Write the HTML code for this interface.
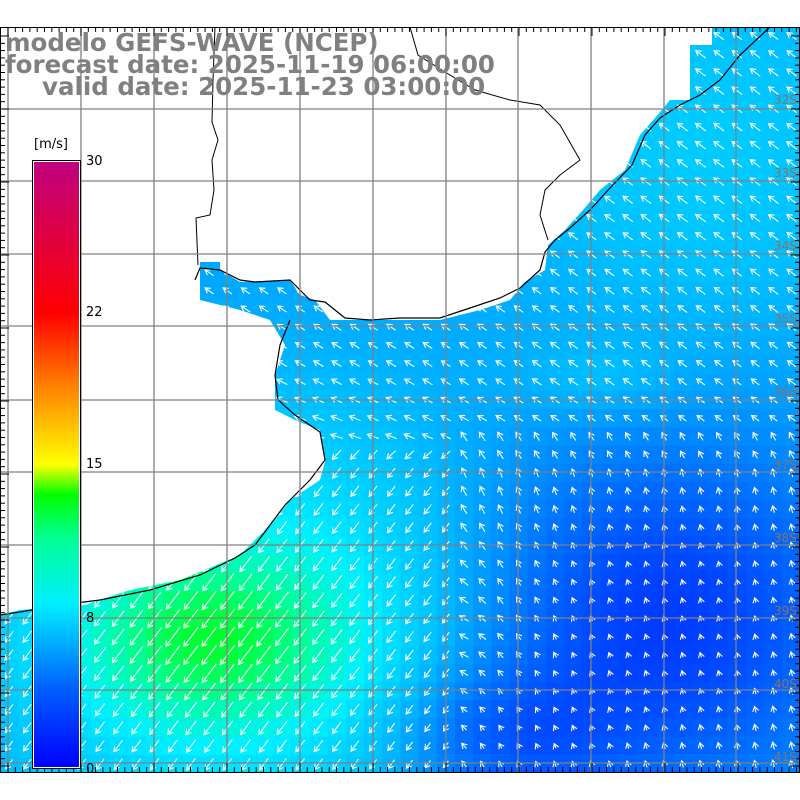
<!DOCTYPE html>
<html><head><meta charset="utf-8"><style>
html,body{margin:0;padding:0;background:#fff;width:800px;height:800px;overflow:hidden}
svg{display:block}
.t{font-family:"DejaVu Sans","Liberation Sans",sans-serif;font-weight:bold;fill:#808080;font-size:24.5px}
.l{font-family:"DejaVu Sans","Liberation Sans",sans-serif;font-size:13px;fill:#000}
.g{font-family:"DejaVu Sans","Liberation Sans",sans-serif;font-size:12px;fill:#907060}
</style></head><body>
<svg id="s" width="800" height="800" xmlns="http://www.w3.org/2000/svg">
<defs>
<linearGradient id="cb" x1="0" y1="1" x2="0" y2="0">
<stop offset="0" stop-color="#0000ff"/>
<stop offset="0.13" stop-color="#0060ff"/>
<stop offset="0.27" stop-color="#00f0ff"/>
<stop offset="0.38" stop-color="#00ff90"/>
<stop offset="0.45" stop-color="#00ff00"/>
<stop offset="0.5" stop-color="#ffff00"/>
<stop offset="0.63" stop-color="#ff8000"/>
<stop offset="0.75" stop-color="#ff0000"/>
<stop offset="1" stop-color="#c00080"/>
</linearGradient>
<clipPath id="cp"><rect x="0" y="27" width="800" height="745"/></clipPath>
</defs>
<g clip-path="url(#cp)">
<g id="cells"></g>
<polygon id="land" fill="#fff" points="0,27 712,27 712,45 690,45 690,100 670,100 655,118 640,135 625,170 600,190 583,210 565,230 548,245 545,270 525,282 510,300 480,310 440,320 330,320 315,300 300,295 290,280 240,282 220,270 220,262 200,262 200,300 240,310 270,320 285,345 275,375 275,410 295,420 320,430 325,462 320,480 290,500 275,520 255,540 240,555 200,572 180,580 130,590 85,605 20,610 0,615"/>
<g id="arrows"></g>
</g>
<polyline fill="none" stroke="#000" stroke-width="1.2" points="770,27 740,55 720,80 700,95 680,105 660,118 645,135 632,165 610,188 590,210 570,228 555,240 545,252 540,270 520,288 500,298 470,308 440,318 400,318 370,320 345,318 325,302 310,300 290,280 255,282 240,280 220,270 200,268 195,280"/>
<polyline fill="none" stroke="#000" stroke-width="1.2" points="290,320 280,345 275,375 278,400 295,415 320,432 325,460 310,480 285,505 270,525 255,545 235,558 200,575 150,590 100,600 60,605 20,612 0,615"/>
<polyline fill="none" stroke="#000" stroke-width="1" points="215,27 213,80 212,122 218,140 212,160 214,190 210,215 196,218 198,265"/>
<polyline fill="none" stroke="#000" stroke-width="1" points="410,27 418,55 445,72 475,90 510,100 540,105 560,125 580,160 560,175 545,190 540,215 548,240"/>
<g id="grid" stroke="#808080" stroke-width="1.3"></g>
<rect x="0.5" y="27.5" width="799" height="745" fill="none" stroke="#000" stroke-width="1"/>
<g id="ticks" stroke="#000" stroke-width="1"></g>
<g class="g">
<text x="774" y="104">32S</text><text x="774" y="177">33S</text><text x="774" y="250">34S</text><text x="774" y="323">35S</text><text x="774" y="396">36S</text><text x="774" y="469">37S</text><text x="774" y="542">38S</text><text x="774" y="615">39S</text><text x="774" y="688">40S</text><text x="774" y="761">41S</text>
</g>
<text class="t" x="5" y="51">modelo GEFS-WAVE (NCEP)</text>
<text class="t" x="5" y="73">forecast date: 2025-11-19 06:00:00</text>
<text class="t" x="42" y="95">valid date: 2025-11-23 03:00:00</text>
<rect x="32.5" y="160.5" width="48" height="608" fill="#fff" stroke="#000"/>
<rect x="34" y="162" width="45" height="605" fill="url(#cb)"/>
<text class="l" x="34" y="148">[m/s]</text>
<text class="l" x="86" y="165">30</text>
<text class="l" x="86" y="316">22</text>
<text class="l" x="86" y="468">15</text>
<text class="l" x="86" y="622">8</text>
<text class="l" x="86" y="773">0</text>
</svg>
<script>
var NS="http://www.w3.org/2000/svg";
function g(x,y,cx,cy,sx,sy){return Math.exp(-((x-cx)*(x-cx)/(sx*sx)+(y-cy)*(y-cy)/(sy*sy)));}
var stops=[[0,[0,0,255]],[3,[0,40,255]],[5,[0,120,255]],[6.5,[0,190,255]],[8,[0,240,255]],[10,[0,255,150]],[12,[0,255,20]],[15,[255,255,0]],[19,[255,128,0]],[23,[255,0,0]],[30,[192,0,128]]];
function col(s){for(var i=1;i<stops.length;i++){if(s<=stops[i][0]){var a=stops[i-1],b=stops[i],t=(s-a[0])/(b[0]-a[0]);return "rgb("+[0,1,2].map(function(k){return Math.round(a[1][k]+(b[1][k]-a[1][k])*t)}).join(",")+")";}}return "rgb(192,0,128)";}
function spd(x,y){return 5.9+1.0*g(x,y,700,150,200,200)+3.4*g(x,y,210,640,120,80)+2.4*g(x,y,250,620,260,200)-2.6*g(x,y,650,620,200,170)-1.5*g(x,y,500,740,110,70)+0.6*g(x,y,600,380,80,40);}
var cells=document.getElementById("cells"),arr=document.getElementById("arrows");
var C=18.2;
for(var j=0;j<42;j++)for(var i=0;i<45;i++){
 var x=i*C,y=27+j*C,cx=x+C/2,cy=y+C/2,s=spd(cx,cy);
 var r=document.createElementNS(NS,"rect");r.setAttribute("x",x);r.setAttribute("y",y);r.setAttribute("width",C+0.5);r.setAttribute("height",C+0.5);r.setAttribute("fill",col(s));cells.appendChild(r);
 var sw=g(cx,cy,200,650,300,200)+(cx<450&&cy>450?0.6:0);
 var nw=(cy<470?1:0.2)*(1-Math.min(1,sw));
 var n=(cx>450&&cy>430?1:0)*(1-Math.min(1,sw));
 var dx=sw*(-0.6)+nw*(-0.8)+n*(-0.1),dy=sw*(0.8)+nw*(-0.6)+n*(-1);
 var m=Math.sqrt(dx*dx+dy*dy)||1;dx/=m;dy/=m;
 var L=Math.max(5,Math.min(24,(s-2)*2.6));
 var ax=cx-dx*L/2,ay=cy-dy*L/2,bx=cx+dx*L/2,by=cy+dy*L/2;
 var h=5,px=-dy,py=dx;
 var d="M"+ax.toFixed(1)+","+ay.toFixed(1)+"L"+bx.toFixed(1)+","+by.toFixed(1)+"M"+(bx-dx*h+px*h*0.6).toFixed(1)+","+(by-dy*h+py*h*0.6).toFixed(1)+"L"+bx.toFixed(1)+","+by.toFixed(1)+"L"+(bx-dx*h-px*h*0.6).toFixed(1)+","+(by-dy*h-py*h*0.6).toFixed(1);
 var p=document.createElementNS(NS,"path");p.setAttribute("d",d);p.setAttribute("stroke","#fff");p.setAttribute("fill","none");p.setAttribute("stroke-width","1.1");
 arr.appendChild(p);
}
var gr=document.getElementById("grid");
[8,81,154,227,300,373,446,518,591,664,736].forEach(function(x){var l=document.createElementNS(NS,"line");l.setAttribute("x1",x);l.setAttribute("x2",x);l.setAttribute("y1",27);l.setAttribute("y2",772);gr.appendChild(l);});
[109,181,254,326,400,472,545,618,690,763].forEach(function(y){var l=document.createElementNS(NS,"line");l.setAttribute("y1",y);l.setAttribute("y2",y);l.setAttribute("x1",0);l.setAttribute("x2",800);gr.appendChild(l);});
var tk=document.getElementById("ticks");
for(var x=8;x<800;x+=7.3){var big=Math.abs(((x-8)/73)-Math.round((x-8)/73))<0.05;var l=document.createElementNS(NS,"line");l.setAttribute("x1",x);l.setAttribute("x2",x);l.setAttribute("y1",27);l.setAttribute("y2",big?36:32);tk.appendChild(l);var l2=l.cloneNode();l2.setAttribute("y1",772);l2.setAttribute("y2",big?763:767);tk.appendChild(l2);}
for(var y=36;y<772;y+=7.3){var big=Math.abs(((y-36)/73)-Math.round((y-36)/73))<0.05;var l=document.createElementNS(NS,"line");l.setAttribute("y1",y);l.setAttribute("y2",y);l.setAttribute("x1",0);l.setAttribute("x2",big?9:5);tk.appendChild(l);var l2=l.cloneNode();l2.setAttribute("x1",800);l2.setAttribute("x2",big?791:795);tk.appendChild(l2);}
</script>
</body></html>
